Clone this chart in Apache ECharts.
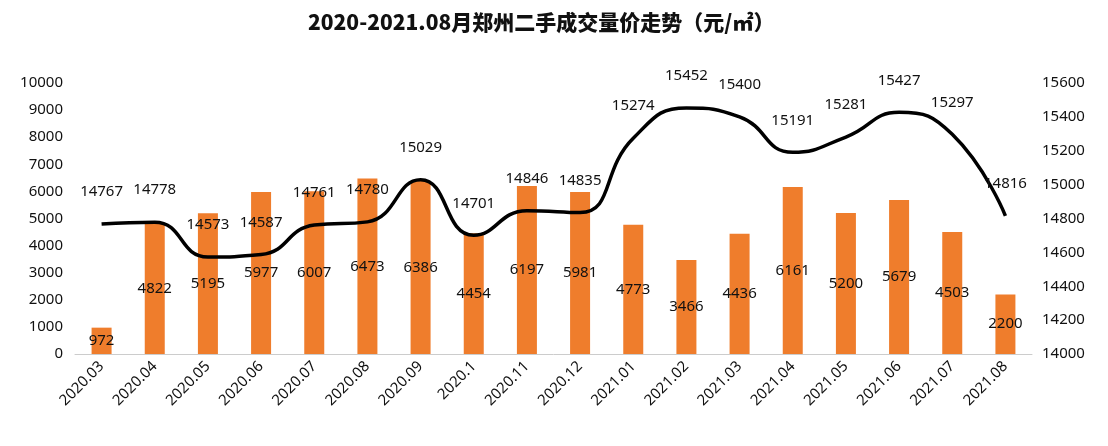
<!DOCTYPE html>
<html>
<head>
<meta charset="utf-8">
<script src="https://cdn.jsdelivr.net/npm/echarts@6/dist/echarts.min.js"></script>
<style>
  html, body { margin: 0; padding: 0; background: #fff; }
  #main { width: 1108px; height: 446px; }
</style>
</head>
<body>
<div id="main"></div>
<script>
// 月份、成交量、成交均价
var months = ['2020.03', '2020.04', '2020.05', '2020.06', '2020.07', '2020.08', '2020.09', '2020.1', '2020.11', '2020.12',
    '2021.01', '2021.02', '2021.03', '2021.04', '2021.05', '2021.06', '2021.07', '2021.08'];
var volume = [972, 4822, 5195, 5977, 6007, 6473, 6386, 4454, 6197, 5981, 4773, 3466, 4436, 6161, 5200, 5679, 4503, 2200];
var price = [14767, 14778, 14573, 14587, 14761, 14780, 15029, 14701, 14846, 14835, 15274, 15452, 15400, 15191, 15281, 15427, 15297, 14816];

var myChart = echarts.init(document.getElementById('main'));

var font = '"Noto Sans", "Noto Sans CJK SC", sans-serif';

var option = {
    backgroundColor: '#fff',
    title: {
        text: '2020-2021.08月郑州二手成交量价走势（元/㎡）',
        left: 303,
        top: 7,
        textStyle: {
            fontFamily: '"Noto Sans CJK SC", sans-serif',
            fontSize: 21,
            fontWeight: 900,
            color: '#111'
        }
    },
    grid: {
        left: 75,
        right: 76,
        top: 83,
        bottom: 92
    },
    xAxis: {
        type: 'category',
        data: months,
        axisLine: {lineStyle: {color: '#ccc'}},
        axisTick: {show: false},
        axisLabel: {
            rotate: 45,
            interval: 0,
            margin: 10,
            color: '#111',
            fontSize: 15,
            fontFamily: font
        }
    },
    yAxis: [
        {
            type: 'value',
            min: 0,
            max: 10000,
            interval: 1000,
            splitLine: {show: false},
            axisLine: {show: false},
            axisTick: {show: false},
            axisLabel: {
                color: '#111', fontSize: 15, fontFamily: font, margin: 12,
                formatter: function (v) { return String(v); }
            }
        },
        {
            type: 'value',
            min: 14000,
            max: 15600,
            interval: 200,
            splitLine: {show: false},
            axisLine: {show: false},
            axisTick: {show: false},
            axisLabel: {
                color: '#111', fontSize: 15, fontFamily: font, margin: 10,
                formatter: function (v) { return String(v); }
            }
        }
    ],
    series: [
        {
            name: '成交量',
            type: 'bar',
            data: volume,
            barWidth: 20,
            itemStyle: {color: '#ef7d2c'},
            label: {
                show: true,
                position: 'inside',
                color: '#111',
                fontSize: 15,
                fontFamily: font
            },
            z: 2
        },
        {
            name: '成交均价',
            type: 'line',
            yAxisIndex: 1,
            data: price,
            smooth: true,
            symbol: 'circle',
            symbolSize: 1,
            showSymbol: true,
            itemStyle: {color: 'rgba(0,0,0,0)'},
            lineStyle: {color: '#000', width: 3.5},
            label: {
                show: true,
                position: 'top',
                distance: 24,
                color: '#111',
                fontSize: 15,
                fontFamily: font
            },
            z: 3
        }
    ]
};

myChart.setOption(option);
</script>
</body>
</html>
